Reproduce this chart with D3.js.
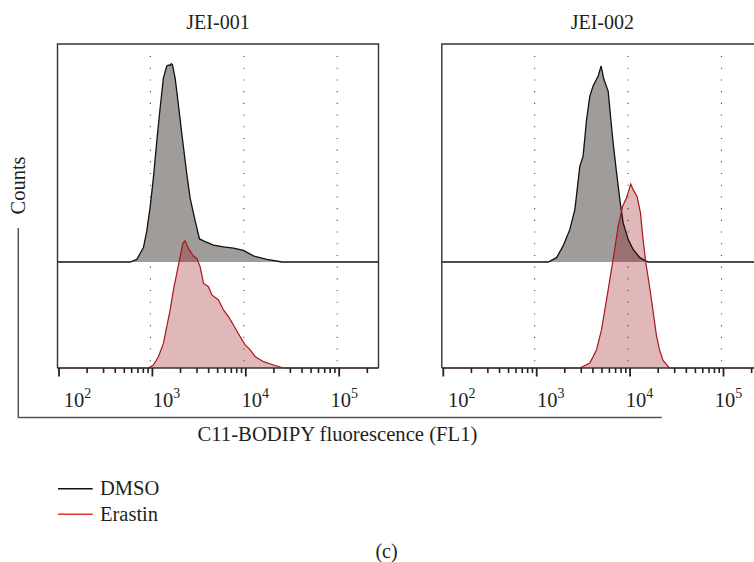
<!DOCTYPE html>
<html><head><meta charset="utf-8">
<script src="https://cdn.jsdelivr.net/npm/d3@7"></script>
<style>
body{margin:0;background:#fff;}
svg{display:block;}
text{font-family:"Liberation Serif","Times New Roman",serif;fill:#231f20;}
</style></head>
<body>
<svg id="chart" width="754" height="562"></svg>
<script>
// ---------- data ----------
const panelTitles = ["JEI-001", "JEI-002"];
const seriesNames = ["DMSO", "Erastin"];
const majorTicks = [1e2, 1e3, 1e4, 1e5];
const tickExponents = ["2", "3", "4", "5"];
const gridValues = [1e3, 1e4, 1e5];

// log10(FL1 fluorescence) and relative counts (% of DMSO band height)
const jei001DmsoLogFL = [2.761, 2.833, 2.904, 2.940, 2.975, 3.011, 3.047, 3.083, 3.118, 3.154, 3.175, 3.190, 3.202, 3.214, 3.243, 3.261, 3.315, 3.368, 3.404, 3.458, 3.504, 3.547, 3.654, 3.761, 3.868, 3.975, 4.082, 4.226, 4.387];
const jei001DmsoCounts = [0, 1.2, 6.6, 14.3, 25.0, 38.8, 55.6, 70.9, 84.7, 90.1, 90.6, 90.3, 91.2, 90.8, 84.7, 78.6, 58.9, 40.5, 29.4, 18.9, 10.6, 9.7, 7.8, 7.0, 6.4, 5.3, 2.8, 1.2, 0];

const jei001ErastinLogFL = [2.957, 3.011, 3.064, 3.118, 3.154, 3.190, 3.225, 3.261, 3.297, 3.326, 3.350, 3.386, 3.439, 3.476, 3.511, 3.547, 3.600, 3.637, 3.707, 3.761, 3.815, 3.868, 3.940, 3.994, 4.047, 4.101, 4.190, 4.297, 4.404];
const jei001ErastinCounts = [0, 1.4, 5.2, 11.3, 19.0, 26.7, 35.9, 43.5, 51.2, 57.3, 58.5, 55.0, 51.5, 50.4, 46.6, 39.0, 37.4, 33.6, 31.3, 26.7, 23.6, 19.8, 14.4, 10.6, 8.3, 5.2, 2.9, 1.4, 0];

const jei002DmsoLogFL = [3.123, 3.213, 3.283, 3.355, 3.409, 3.462, 3.497, 3.534, 3.569, 3.604, 3.658, 3.690, 3.719, 3.765, 3.790, 3.818, 3.855, 3.890, 3.925, 3.979, 4.032, 4.104, 4.193];
const jei002DmsoCounts = [0, 2.0, 7.4, 15.0, 24.2, 44.1, 48.7, 65.6, 76.3, 80.9, 85.5, 90.1, 84.0, 78.6, 67.1, 54.9, 41.1, 28.8, 18.1, 10.4, 5.8, 2.0, 0];

const jei002ErastinLogFL = [3.462, 3.569, 3.641, 3.694, 3.748, 3.783, 3.818, 3.872, 3.919, 3.961, 3.989, 4.007, 4.032, 4.075, 4.111, 4.139, 4.168, 4.210, 4.246, 4.282, 4.317, 4.353, 4.420];
const jei002ErastinCounts = [0, 2.3, 8.4, 17.6, 31.4, 40.6, 49.8, 65.1, 74.3, 78.2, 82.0, 84.6, 82.0, 78.9, 71.3, 59.0, 48.6, 37.0, 26.0, 15.0, 8.0, 3.5, 0];

const panelData = [
  {dmso: [jei001DmsoLogFL, jei001DmsoCounts], erastin: [jei001ErastinLogFL, jei001ErastinCounts]},
  {dmso: [jei002DmsoLogFL, jei002DmsoCounts], erastin: [jei002ErastinLogFL, jei002ErastinCounts]}
];

// ---------- layout ----------
const svg = d3.select("#chart");
const panelX0 = [59, 443.3];      // pixel of 10^2 in each panel
const decade = 93.4;
const boxTop = 44, dmsoBase = 262, axisY = 368;
const boxW = 321;

const yD = d3.scaleLinear().domain([0, 100]).range([dmsoBase, dmsoBase - 217.5]);
const yE = d3.scaleLinear().domain([0, 100]).range([axisY, axisY - 217.5]);

const grayFill = "#a09c99";
const redFill = "rgba(148,0,8,0.28)";
const redStroke = "#a8161e";

panelTitles.forEach((title, i) => {
  const p0 = panelX0[i];
  const x = d3.scaleLog().domain([1e2, 1e5]).range([p0, p0 + 3 * decade]);
  const left = p0 - 1.5, right = left + boxW;
  const xmin = x.invert(left), xmax = x.invert(right);
  const g = svg.append("g");

  // title
  g.append("text").attr("x", p0 + 159).attr("y", 29).attr("text-anchor", "middle")
    .style("font-size", "20px").text(title);

  // dotted gridlines
  gridValues.forEach(v => {
    g.append("line").attr("x1", x(v) - 2).attr("x2", x(v) - 2)
      .attr("y1", boxTop + 12).attr("y2", axisY)
      .attr("stroke", "#444").attr("stroke-width", 1.1)
      .attr("stroke-dasharray", "1.1,10.6");
  });

  const toPts = (arr, yScale) => arr[0].map((e, k) => [x(Math.pow(10, e)), yScale(arr[1][k])]);
  const dPts = toPts(panelData[i].dmso, yD);
  const ePts = toPts(panelData[i].erastin, yE);

  const area = (base) => d3.area().x(d => d[0]).y0(base).y1(d => d[1]).curve(d3.curveLinear);
  const line = d3.line().curve(d3.curveLinear);

  // DMSO fill
  g.append("path").attr("d", area(dmsoBase)(dPts)).attr("fill", grayFill);
  // Erastin fill
  g.append("path").attr("d", area(axisY)(ePts)).attr("fill", redFill);

  // DMSO outline across full width
  const dLine = [[x(xmin), yD(0)], ...dPts, [x(xmax), yD(0)]];
  g.append("path").attr("d", line(dLine)).attr("fill", "none")
    .attr("stroke", "#111").attr("stroke-width", 1.3);
  // Erastin outline across full width
  const eLine = [[x(xmin), yE(0)], ...ePts, [x(xmax), yE(0)]];
  g.append("path").attr("d", line(eLine)).attr("fill", "none")
    .attr("stroke", redStroke).attr("stroke-width", 1.2);

  // box (left, top, right)
  g.append("path").attr("d", `M${left},${axisY}V${boxTop}H${right}V${axisY}`)
    .attr("fill", "none").attr("stroke", "#333").attr("stroke-width", 1.4);
  // bottom axis line
  g.append("line").attr("x1", left).attr("x2", right).attr("y1", axisY).attr("y2", axisY)
    .attr("stroke", "#333").attr("stroke-width", 1.4);

  // ticks
  const minor = [];
  for (let e = 2; e <= 5; e++) for (let m = 2; m <= 9; m++) {
    const v = m * Math.pow(10, e);
    if (v <= xmax) minor.push(v);
  }
  minor.forEach(v => {
    g.append("line").attr("x1", x(v)).attr("x2", x(v)).attr("y1", axisY).attr("y2", axisY + 5)
      .attr("stroke", "#222").attr("stroke-width", 1.6);
  });
  majorTicks.forEach(v => {
    g.append("line").attr("x1", x(v)).attr("x2", x(v)).attr("y1", axisY).attr("y2", axisY + 8.5)
      .attr("stroke", "#222").attr("stroke-width", 1.8);
  });

  // tick labels
  const lx = d3.scaleLog().domain([1e2, 1e5]).range([p0 + 18.5, p0 + 18.5 + 266.7]);
  majorTicks.forEach((v, k) => {
    const t = g.append("text").attr("x", lx(v)).attr("y", 406.5).attr("text-anchor", "middle")
      .style("font-size", "20.5px");
    t.append("tspan").text("10");
    t.append("tspan").attr("dy", -8.5).style("font-size", "14px").text(tickExponents[k]);
  });
});

// Counts label + bracket
svg.append("text").attr("transform", "translate(24.5,185.5) rotate(-90)")
  .attr("text-anchor", "middle").style("font-size", "20.5px").text("Counts");
svg.append("path").attr("d", "M18.3,228V417.5H661.7").attr("fill", "none")
  .attr("stroke", "#555").attr("stroke-width", 1.5);

svg.append("text").attr("x", 337.5).attr("y", 440.5).attr("text-anchor", "middle")
  .style("font-size", "20.7px").text("C11-BODIPY fluorescence (FL1)");

// legend
const legendColors = ["#111", "#d8392c"];
const legendY = [488.7, 514.3];
seriesNames.forEach((n, k) => {
  svg.append("line").attr("x1", 58).attr("x2", 92.7).attr("y1", legendY[k]).attr("y2", legendY[k])
    .attr("stroke", legendColors[k]).attr("stroke-width", 1.6);
  svg.append("text").attr("x", 100).attr("y", legendY[k] + 6.3).style("font-size", "20.5px").text(n);
});

svg.append("text").attr("x", 386.5).attr("y", 557.5).attr("text-anchor", "middle")
  .style("font-size", "20px").text("(c)");
</script>
</body></html>
